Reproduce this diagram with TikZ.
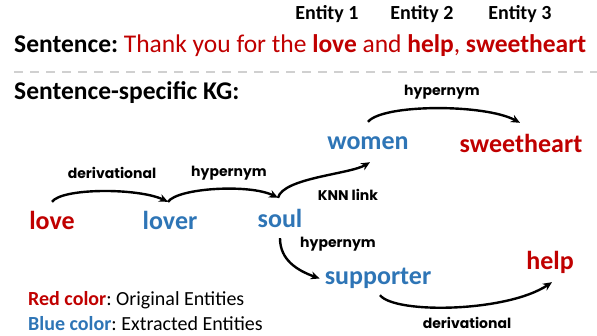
\documentclass[tikz,border=0pt]{standalone}
\usepackage{fontspec}
\setmainfont{Carlito}
\newfontfamily\lblfont{Poppins}
\usetikzlibrary{arrows.meta}
\definecolor{entred}{HTML}{C00000}
\definecolor{entblue}{HTML}{2E75B6}
\definecolor{dashgray}{HTML}{D0D0D0}
\frenchspacing
\tikzset{
  ent/.style={inner sep=0pt, anchor=base, text height=18pt, text depth=5pt, font=\fontsize{26}{30}\selectfont\bfseries},
  orig/.style={ent, text=entred},
  extr/.style={ent, text=entblue},
  elabel/.style={inner sep=0pt, anchor=center, font=\lblfont\fontsize{14}{16}\selectfont\bfseries},
  rel/.style={line width=2.4pt, -{Stealth[length=9pt,width=8pt]}},
  heading/.style={inner sep=0pt, anchor=base west, font=\fontsize{25.5}{30}\selectfont},
  enthead/.style={inner sep=0pt, anchor=base, font=\fontsize{20}{24}\selectfont\bfseries},
  legend/.style={inner sep=0pt, anchor=base west, font=\fontsize{20}{24}\selectfont},
}
\begin{document}
\begin{tikzpicture}[x=1pt,y=-1pt]
\useasboundingbox (0,0) rectangle (597,336);
% header
\node[enthead] (e1) at (327,20) {Entity 1};
\node[enthead] (e2) at (422,20) {Entity 2};
\node[enthead] (e3) at (520,20) {Entity 3};
\node[heading] (sent) at (14,53) {\textbf{Sentence:} \textcolor{entred}{Thank you for the \textbf{love} and \textbf{help}, \textbf{sweetheart}}};
\draw[dashgray, line width=2pt, dash pattern=on 9pt off 7pt] (14,72) -- (597,72);
\node[heading] (kg) at (14,100) {\textbf{Sentence-specific KG:}};
% entities
\node[orig] (love) at (52,230) {love};
\node[extr] (lover) at (170,230) {lover};
\node[extr] (soul) at (280,228) {soul};
\node[extr] (women) at (368,150) {women};
\node[orig] (sweet) at (521,153) {sweetheart};
\node[extr] (supp) at (378,285) {supporter};
\node[orig] (help) at (550,270) {help};
% relations
\draw[rel] ([yshift=10pt]love.north) .. controls +(10,-14) and +(-30,-14) .. ([xshift=-2pt,yshift=10pt]lover.north);
\draw[rel] ([xshift=-2pt,yshift=10pt]lover.north) .. controls +(10,-14) and +(-28,-14) .. ([xshift=-2pt,yshift=12pt]soul.north);
\draw[rel] ([xshift=-2pt,yshift=12pt]soul.north) .. controls +(5,-20) and +(-20,12) .. ([xshift=2pt,yshift=-7pt]women.south);
\draw[rel] ([yshift=10pt]women.north) .. controls +(15,-18) and +(-35,-19) .. ([xshift=-1pt,yshift=12pt]sweet.north);
\draw[rel] ([yshift=-5pt]soul.south) .. controls +(0,22) and +(-22,-8) .. ([xshift=-5pt]supp.west);
\draw[rel] ([xshift=2pt,yshift=-5pt]supp.south) .. controls +(15,19) and +(-45,30) .. ([xshift=2pt,yshift=-7pt]help.south);
% relation labels
\node[elabel] (l1) at (112,173) {derivational};
\node[elabel] (l2) at (229,173) {hypernym};
\node[elabel] (l3) at (348,195) {KNN link};
\node[elabel] (l4) at (442,92) {hypernym};
\node[elabel] (l5) at (338,244) {hypernym};
\node[elabel] (l6) at (467,323) {derivational};
% legend
\node[legend] (leg1) at (28,306) {\textcolor{entred}{\textbf{Red color}}: Original Entities};
\node[legend] (leg2) at (28,331) {\textcolor{entblue}{\textbf{Blue color}}: Extracted Entities};
\end{tikzpicture}
\end{document}
